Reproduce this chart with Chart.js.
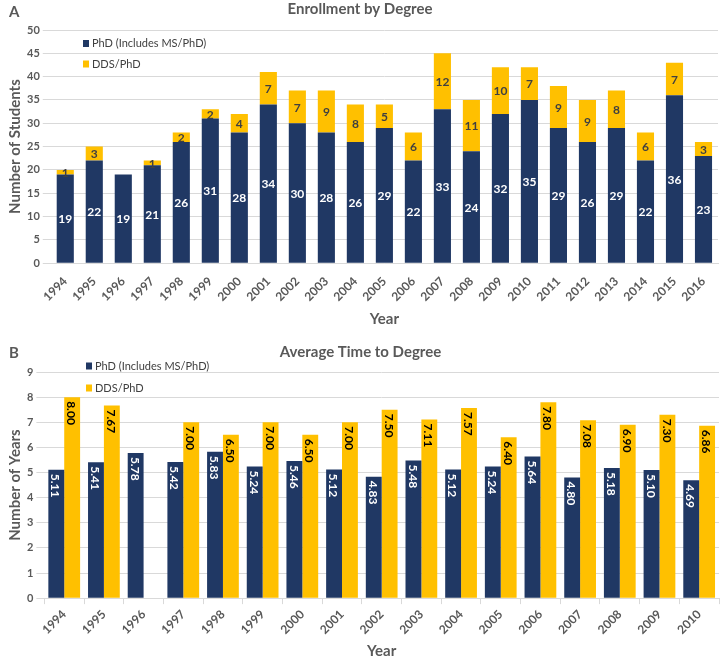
<!DOCTYPE html>
<html>
<head>
<meta charset="utf-8">
<script src="https://cdn.jsdelivr.net/npm/chart.js@4.4.0/dist/chart.umd.min.js"></script>
<style>
  body { margin:0; background:#fff; width:722px; height:664px; position:relative; overflow:hidden; font-family:Lato, "Open Sans", sans-serif; }
  .panel { position:absolute; left:0; width:722px; }
  .tag { position:absolute; left:9px; font:bold 15px Lato, sans-serif; color:#595959; }
</style>
</head>
<body>
<div class="panel" style="top:0;height:332px"><canvas id="enroll"></canvas></div>
<div class="panel" style="top:331px;height:333px"><canvas id="time"></canvas></div>
<div class="tag" style="top:2px">A</div>
<div class="tag" style="top:343px">B</div>
<script>
// A) Enrollment
const enrollYears = ['1994','1995','1996','1997','1998','1999','2000','2001','2002','2003','2004','2005',
                     '2006','2007','2008','2009','2010','2011','2012','2013','2014','2015','2016'];
const enrollPhd = [19,22,19,21,26,31,28,34,30,28,26,29,22,33,24,32,35,29,26,29,22,36,23];
const enrollDds = [1,3,null,1,2,2,4,7,7,9,8,5,6,12,11,10,7,9,9,8,6,7,3];

// B) Time to degree
const timeYears = ['1994','1995','1996','1997','1998','1999','2000','2001','2002','2003','2004','2005',
                   '2006','2007','2008','2009','2010'];
const timePhd = [5.11,5.41,5.78,5.42,5.83,5.24,5.46,5.12,4.83,5.48,5.12,5.24,5.64,4.80,5.18,5.10,4.69];
const timeDds = [8.00,7.67,null,7.00,6.50,7.00,6.50,7.00,7.50,7.11,7.57,6.40,7.80,7.08,6.90,7.30,6.86];

const NAVY = '#203864', GOLD = '#FFC000', GRID = '#D9D9D9', TXT = '#595959';
const FONT = 'Lato, "Open Sans", sans-serif';

// labels on bars
const barLabels = {
  id: 'barLabels',
  afterDatasetsDraw(chart, args, opts) {
    const ctx = chart.ctx;
    ctx.save();
    ctx.font = opts.font;
    chart.data.datasets.forEach((ds, i) => {
      const meta = chart.getDatasetMeta(i);
      meta.data.forEach((bar, j) => {
        const v = ds.data[j];
        if (v == null) return;
        ctx.fillStyle = opts.colors[i];
        const txt = opts.digits ? v.toFixed(opts.digits) : String(v);
        if (opts.rotated) {
          ctx.save();
          ctx.translate(bar.x, bar.y + 4);
          ctx.rotate(Math.PI / 2);
          ctx.textAlign = 'left';
          ctx.textBaseline = 'middle';
          ctx.fillText(txt, 0, 1);
          ctx.restore();
        } else {
          ctx.textAlign = 'center';
          ctx.textBaseline = 'middle';
          ctx.fillText(txt, bar.x, (bar.y + bar.base) / 2 + 1);
        }
      });
    });
    ctx.restore();
  }
};

// legend inside plot (x,y are canvas coords)
const boxLegend = {
  id: 'boxLegend',
  afterDraw(chart, args, opts) {
    const ctx = chart.ctx;
    ctx.save();
    ctx.font = '11px ' + FONT;
    ctx.textBaseline = 'middle';
    chart.data.datasets.forEach((ds, i) => {
      const y = opts.y + i * opts.gap;
      ctx.fillStyle = ds.backgroundColor;
      ctx.fillRect(opts.x, y - 3.5, 6, 7);
      ctx.fillStyle = '#404040';
      ctx.fillText(ds.label, opts.x + 9, y);
    });
    ctx.restore();
  }
};

function axisOpts(title, pad, extra) {
  return Object.assign({
    title: { display: true, text: title, color: TXT, padding: { top: pad, bottom: 0 },
             font: { family: FONT, size: 15, weight: 'bold' } },
    grid: { color: GRID },
    border: { color: GRID }
  }, extra);
}
const xTicks = { color: TXT, minRotation: 45, maxRotation: 45, font: { family: FONT, size: 12, weight: 'bold' } };
const yTicks = (step) => ({ stepSize: step, color: TXT, font: { family: FONT, size: 11, weight: 'bold' } });

new Chart(document.getElementById('enroll'), {
  type: 'bar',
  data: {
    labels: enrollYears,
    datasets: [
      { label: 'PhD (Includes MS/PhD)', data: enrollPhd, backgroundColor: NAVY },
      { label: 'DDS/PhD', data: enrollDds, backgroundColor: GOLD }
    ]
  },
  options: {
    responsive: true, maintainAspectRatio: false, animation: false,
    layout: { padding: { left: 2, right: 4, top: 0, bottom: 4 } },
    datasets: { bar: { barPercentage: 0.59, categoryPercentage: 1 } },
    plugins: {
      legend: { display: false }, tooltip: { enabled: false },
      title: { display: true, text: 'Enrollment by Degree', color: TXT,
               font: { family: FONT, size: 15, weight: 'bold' }, padding: { top: 0, bottom: 12 } },
      barLabels: { font: 'bold 12px ' + FONT, colors: ['#fff', '#404040'] },
      boxLegend: { x: 83, y: 43.5, gap: 20.5 }
    },
    scales: {
      x: axisOpts('Year', 3, { stacked: true, grid: { display: false }, ticks: xTicks }),
      y: axisOpts('Number of Students', 4, { stacked: true, min: 0, max: 50, ticks: yTicks(5), border: { display: false } })
    }
  },
  plugins: [barLabels, boxLegend]
});

new Chart(document.getElementById('time'), {
  type: 'bar',
  data: {
    labels: timeYears,
    datasets: [
      { label: 'PhD (Includes MS/PhD)', data: timePhd, backgroundColor: NAVY },
      { label: 'DDS/PhD', data: timeDds, backgroundColor: GOLD }
    ]
  },
  options: {
    responsive: true, maintainAspectRatio: false, animation: false,
    layout: { padding: { left: 2, right: 3, top: 12, bottom: 4 } },
    datasets: { bar: { barPercentage: 1, categoryPercentage: 0.8 } },
    plugins: {
      legend: { display: false }, tooltip: { enabled: false },
      title: { display: true, text: 'Average Time to Degree', color: TXT,
               font: { family: FONT, size: 15, weight: 'bold' }, padding: { top: 0, bottom: 11 } },
      barLabels: { font: 'bold 12px ' + FONT, colors: ['#fff', '#000'], rotated: true, digits: 2 },
      boxLegend: { x: 86, y: 35, gap: 22 }
    },
    scales: {
      x: axisOpts('Year', 2, { grid: { drawOnChartArea: false, color: GRID, tickLength: 6 }, ticks: xTicks }),
      y: axisOpts('Number of Years', 4, { min: 0, max: 9, ticks: yTicks(1), border: { display: false } })
    }
  },
  plugins: [barLabels, boxLegend]
});
</script>
</body>
</html>
